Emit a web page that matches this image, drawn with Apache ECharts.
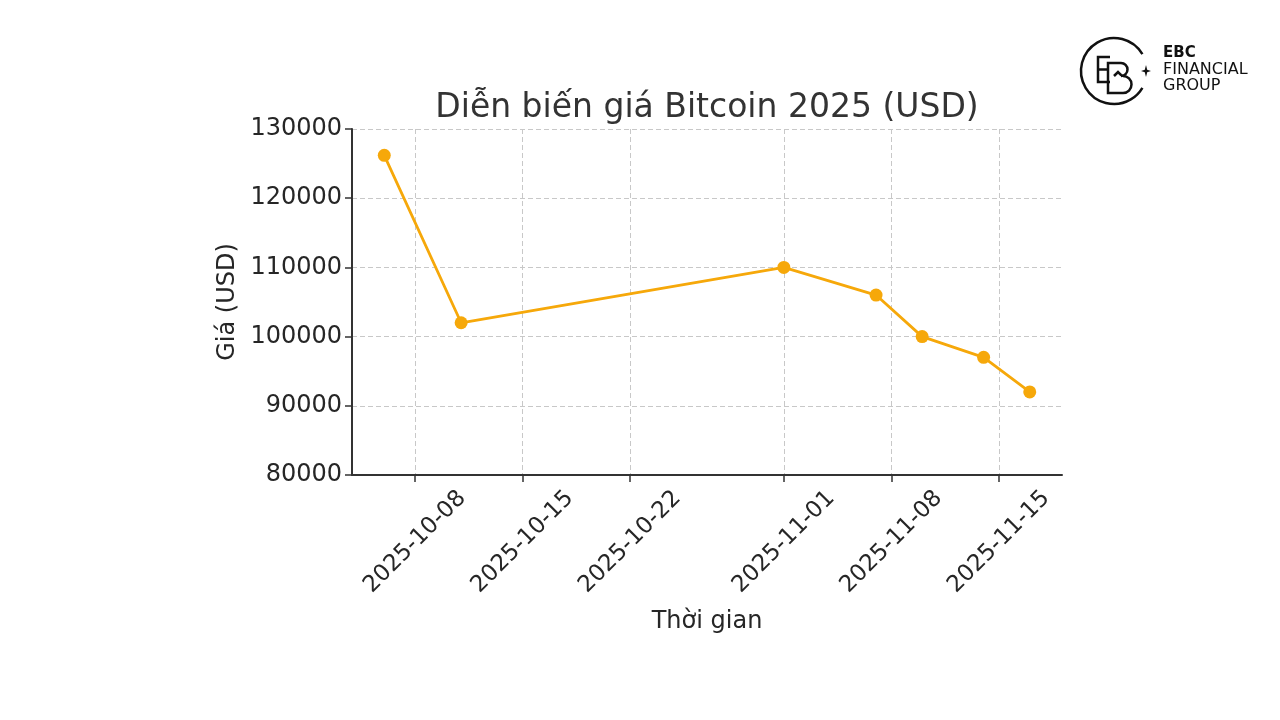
<!DOCTYPE html>
<html>
<head>
<meta charset="utf-8">
<script src="https://cdn.jsdelivr.net/npm/echarts@6/dist/echarts.min.js"></script>
<style>html,body{margin:0;padding:0;background:#fff;}#c{width:1280px;height:720px;}</style>
</head>
<body>
<div id="c"></div>
<script>
const dates = ['2025-10-06','2025-10-11','2025-11-01','2025-11-07','2025-11-10','2025-11-14','2025-11-17'];
const prices = [126200, 102000, 110000, 106000, 100000, 97000, 92000];
const tickDates = ['2025-10-08','2025-10-15','2025-10-22','2025-11-01','2025-11-08','2025-11-15'];
const yTicks = [80000, 90000, 100000, 110000, 120000, 130000];

function ts(s){ const p = s.split('-').map(Number); return Date.UTC(p[0], p[1]-1, p[2]); }
function fmt(v){ const d = new Date(v); const m = String(d.getUTCMonth()+1).padStart(2,'0'); const dd = String(d.getUTCDate()).padStart(2,'0'); return d.getUTCFullYear()+'-'+m+'-'+dd; }

const xs = dates.map(ts);
const span = xs[xs.length-1] - xs[0];
const xMin = xs[0] - span*0.05;
const xMax = xs[xs.length-1] + span*0.05;
const tickTs = tickDates.map(ts);

const chart = echarts.init(document.getElementById('c'), null, {renderer:'canvas'});
const F = '"DejaVu Sans", sans-serif';
const ink = {stroke:'#111', lineWidth:2.5, fill:null};
chart.setOption({
  animation:false,
  backgroundColor:'#fff',
  title:{
    text:'Diễn biến giá Bitcoin 2025 (USD)',
    left:702, top:87, textAlign:'center',
    textStyle:{fontFamily:F, fontSize:33, fontWeight:'normal', color:'#333'}
  },
  grid:{left:352, right:218, top:129, bottom:245, containLabel:false},
  xAxis:{
    type:'value', min:xMin, max:xMax,
    name:'Thời gian', nameLocation:'middle', nameGap:135,
    nameTextStyle:{fontFamily:F, fontSize:24, color:'#262626'},
    axisLine:{show:true, lineStyle:{color:'#333', width:2}},
    axisTick:{show:true, customValues:tickTs, length:7, lineStyle:{color:'#333', width:1.5}},
    axisLabel:{customValues:tickTs, formatter:fmt, rotate:45, align:'center', verticalAlign:'middle', margin:67, fontFamily:F, fontSize:23, color:'#262626'},
    splitLine:{show:true, lineStyle:{color:'#c8c8c8', type:[5,3], width:1}}
  },
  yAxis:{
    type:'value', min:yTicks[0], max:yTicks[yTicks.length-1], interval:10000,
    name:'Giá (USD)', nameLocation:'middle', nameGap:104,
    nameTextStyle:{fontFamily:F, fontSize:24, color:'#262626'},
    axisLine:{show:true, lineStyle:{color:'#333', width:2}},
    axisTick:{show:true, length:7, lineStyle:{color:'#333', width:1.5}},
    axisLabel:{fontFamily:F, fontSize:24, color:'#262626', margin:10, padding:[4,0,0,0], formatter:(v)=>String(v)},
    splitLine:{show:true, lineStyle:{color:'#c8c8c8', type:[5,3], width:1}}
  },
  series:[{
    type:'line',
    data: xs.map((x,i)=>[x, prices[i]]),
    symbol:'circle', symbolSize:13,
    lineStyle:{color:'#F6A80A', width:2.8},
    itemStyle:{color:'#F6A80A'}
  }],
  graphic:[
    {type:'arc', shape:{cx:1114, cy:71, r:33, startAngle:-Math.PI*0.17, endAngle:Math.PI*0.17, clockwise:false}, style:ink},
    {type:'polyline', shape:{points:[[1110,57],[1098,57],[1098,82],[1110,82]]}, style:ink},
    {type:'line', shape:{x1:1098, y1:69.5, x2:1107, y2:69.5}, style:ink},
    {type:'polyline', shape:{points:[[1121,63],[1108,63],[1108,93],[1123,93]]}, style:ink},
    {type:'arc', shape:{cx:1123, cy:84.5, r:8.5, startAngle:-Math.PI/2, endAngle:Math.PI/2, clockwise:true}, style:ink},
    {type:'arc', shape:{cx:1121, cy:69.5, r:6.5, startAngle:-Math.PI/2, endAngle:Math.PI/2, clockwise:true}, style:ink},
    {type:'polyline', shape:{points:[[1114,76],[1118,72],[1121,75],[1123,76]]}, style:ink},
    {type:'polygon', shape:{points:[[1146,65],[1147.2,69.8],[1151,71],[1147.2,72.2],[1146,77],[1144.8,72.2],[1141,71],[1144.8,69.8]]}, style:{fill:'#111'}},
    {type:'text', left:1163, top:46, style:{text:'EBC', fontFamily:F, fontSize:15, fontWeight:'bold', fill:'#111'}},
    {type:'text', left:1163, top:62, style:{text:'FINANCIAL', fontFamily:F, fontSize:16, fill:'#111'}},
    {type:'text', left:1163, top:78, style:{text:'GROUP', fontFamily:F, fontSize:16, fill:'#111'}}
  ]
});
</script>
</body>
</html>
